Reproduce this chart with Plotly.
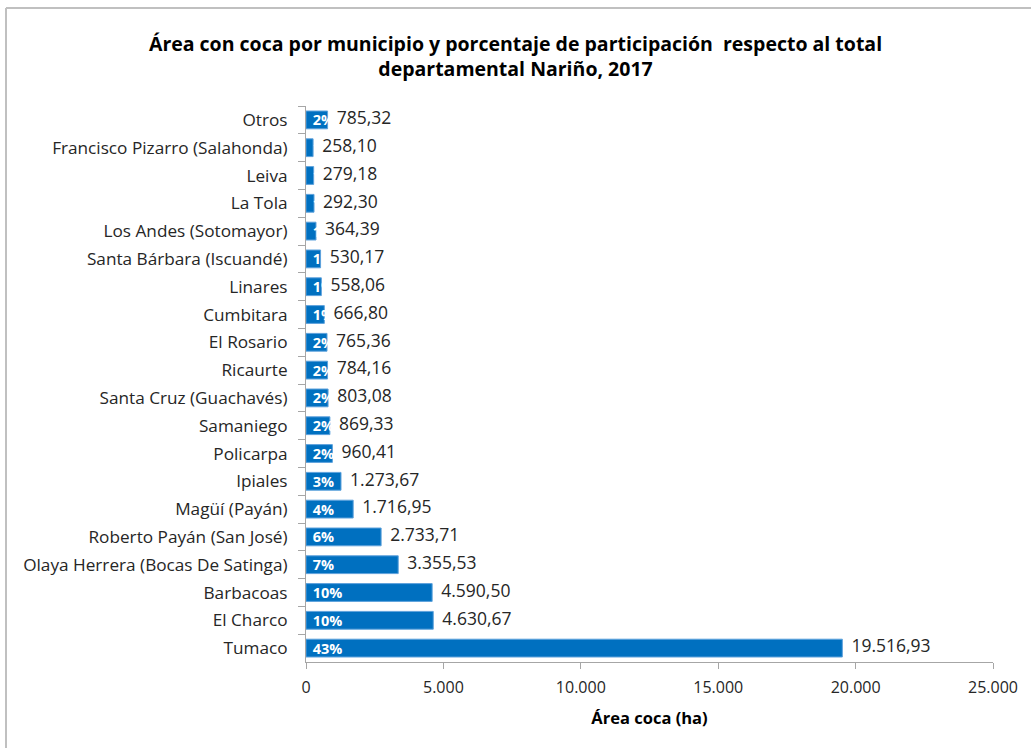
import plotly.graph_objects as go

# Data (top to bottom)
municipios = [
    'Otros', 'Francisco Pizarro (Salahonda)', 'Leiva', 'La Tola',
    'Los Andes (Sotomayor)', 'Santa Bárbara (Iscuandé)', 'Linares', 'Cumbitara',
    'El Rosario', 'Ricaurte', 'Santa Cruz (Guachavés)', 'Samaniego', 'Policarpa',
    'Ipiales', 'Magüí (Payán)', 'Roberto Payán (San José)',
    'Olaya Herrera (Bocas De Satinga)', 'Barbacoas', 'El Charco', 'Tumaco',
]
area_ha = [
    785.32, 258.10, 279.18, 292.30, 364.39, 530.17, 558.06, 666.80,
    765.36, 784.16, 803.08, 869.33, 960.41, 1273.67, 1716.95, 2733.71,
    3355.53, 4590.50, 4630.67, 19516.93,
]
porcentaje = [2, 1, 1, 1, 1, 1, 1, 1, 2, 2, 2, 2, 2, 3, 4, 6, 7, 10, 10, 43]
x_ticks = [0, 5000, 10000, 15000, 20000, 25000]

FONT = "Open Sans, Liberation Sans, sans-serif"

fig = go.Figure()

# Bars with percentage labels inside (text left to overflow, like the original)
fig.add_trace(go.Bar(
    x=area_ha,
    y=municipios,
    orientation='h',
    marker=dict(color='#0070C0', line=dict(color='#5EA2DC', width=1)),
    text=[f' {p}%' for p in porcentaje],
    textposition='inside',
    insidetextanchor='start',
    constraintext='none',
    textangle=0,
    textfont=dict(color='white', size=14.5, family=FONT, weight='bold'),
    hoverinfo='x+y',
    showlegend=False,
))

# Value labels to the right of bars
fig.add_trace(go.Scatter(
    x=area_ha,
    y=municipios,
    mode='text',
    texttemplate='  %{x:,.2f}',
    textposition='middle right',
    textfont=dict(color='#262626', size=17.5, family=FONT),
    hoverinfo='skip',
    showlegend=False,
    cliponaxis=False,
))

# plot area in pixels: x 306..993, y 106..662
L, R, T, B = 306, 993, 106, 662
W, H = R - L, B - T


def px_x(p):
    return (p - L) / W


def px_y(p):
    return (B - p) / H


border = dict(color='#C0C0C0', width=2)
n = len(municipios)

fig.update_layout(
    width=1031,
    height=748,
    margin=dict(l=L, r=1031 - R, t=T, b=748 - B),
    paper_bgcolor='white',
    plot_bgcolor='white',
    separators=',.',
    bargap=0.36,
    font=dict(family=FONT, color='#262626'),
    title=dict(
        text='Área con coca por municipio y porcentaje de participación  respecto al total<br>departamental Nariño, 2017',
        x=0.5, xref='container', xanchor='center',
        y=1 - 51 / 748, yref='container', yanchor='middle',
        font=dict(size=19.5, family=FONT, color='#000000', weight='bold'),
    ),
    xaxis=dict(
        range=[0, 25000],
        tickvals=x_ticks,
        tickformat=',.0f',
        showgrid=False,
        zeroline=False,
        showline=True,
        linecolor='#A6A6A6',
        linewidth=1,
        ticks='outside',
        ticklen=6,
        tickcolor='#A6A6A6',
        tickfont=dict(size=16, color='#262626'),
        ticklabelstandoff=5,
        automargin=False,
        title=dict(text='<b>Área coca (ha)</b>', font=dict(size=16.5, color='#000000'), standoff=15),
    ),
    yaxis=dict(
        categoryorder='array',
        categoryarray=municipios,
        range=[n - 0.5, -0.5],
        showgrid=False,
        showline=True,
        linecolor='#A6A6A6',
        linewidth=1,
        ticks='outside',
        tickson='boundaries',
        ticklen=7,
        tickcolor='#A6A6A6',
        tickfont=dict(size=17.2, color='#262626'),
        ticklabelstandoff=14,
        automargin=False,
    ),
    shapes=[
        dict(type='line', xref='paper', yref='paper',
             x0=px_x(6), x1=px_x(1031), y0=px_y(8), y1=px_y(8), line=border),
        dict(type='line', xref='paper', yref='paper',
             x0=px_x(6), x1=px_x(6), y0=px_y(8), y1=px_y(748), line=border),
    ],
)

fig.write_html('out.html', config={'displayModeBar': False},
               post_script="document.body.style.margin='0';")
